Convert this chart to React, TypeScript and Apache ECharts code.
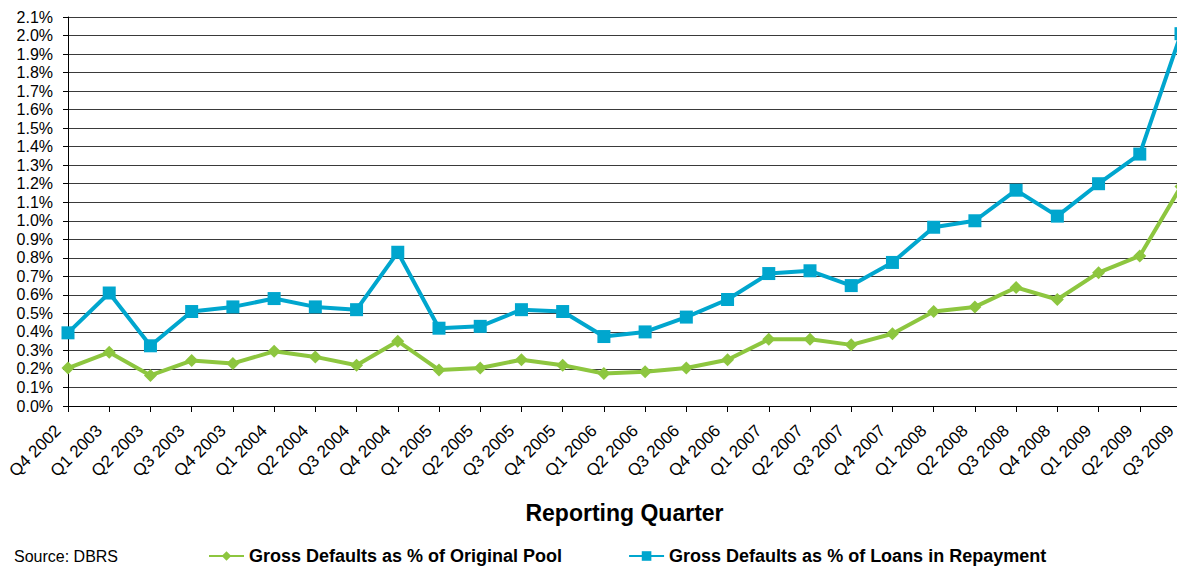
import React, { useEffect, useRef } from "react";
import * as echarts from "echarts";

const quarters = [
  "Q4 2002", "Q1 2003", "Q2 2003", "Q3 2003", "Q4 2003", "Q1 2004", "Q2 2004",
  "Q3 2004", "Q4 2004", "Q1 2005", "Q2 2005", "Q3 2005", "Q4 2005", "Q1 2006",
  "Q2 2006", "Q3 2006", "Q4 2006", "Q1 2007", "Q2 2007", "Q3 2007", "Q4 2007",
  "Q1 2008", "Q2 2008", "Q3 2008", "Q4 2008", "Q1 2009", "Q2 2009", "Q3 2009",
];

const originalPool = [
  0.205, 0.29, 0.165, 0.245, 0.23, 0.295, 0.265, 0.22, 0.35, 0.195, 0.205,
  0.25, 0.22, 0.175, 0.185, 0.205, 0.25, 0.36, 0.36, 0.33, 0.39, 0.51, 0.535,
  0.64, 0.575, 0.72, 0.81, 1.185,
];

const loansInRepayment = [
  0.395, 0.61, 0.325, 0.51, 0.535, 0.58, 0.535, 0.52, 0.83, 0.42, 0.43, 0.52,
  0.51, 0.375, 0.4, 0.48, 0.575, 0.715, 0.73, 0.65, 0.775, 0.965, 1.0, 1.165,
  1.025, 1.2, 1.36, 2.01,
];

const seriesNames = [
  "Gross Defaults as % of Original Pool",
  "Gross Defaults as % of Loans in Repayment",
];

export default function App() {
  const ref = useRef<HTMLDivElement>(null);
  useEffect(() => {
    if (!ref.current) return;
    const chart = echarts.init(ref.current, undefined, { renderer: "svg" });
    const font = "Liberation Sans, Arial, sans-serif";
    chart.setOption({
      animation: false,
      backgroundColor: "#ffffff",
      textStyle: { fontFamily: font },
      grid: {
        left: 68,
        right: -4,
        top: 17,
        bottom: 164,
        containLabel: false,
        outerBoundsMode: "none",
      },
      legend: {
        left: 203,
        top: 542,
        itemWidth: 35,
        itemHeight: 12,
        itemGap: 66,
        textStyle: { fontFamily: font, fontSize: 18, fontWeight: "bold", color: "#000" },
        data: seriesNames,
      },
      xAxis: {
        type: "category",
        data: quarters,
        boundaryGap: false,
        axisLine: { lineStyle: { color: "#000", width: 1 } },
        axisTick: { show: true, length: 6, lineStyle: { color: "#000" } },
        axisLabel: {
          rotate: 45,
          interval: 0,
          fontSize: 17,
          color: "#000",
          fontFamily: font,
          margin: 12,
          padding: [0, 14, 0, 0],
        },
        name: "Reporting Quarter",
        nameLocation: "middle",
        nameGap: 95,
        nameTextStyle: { fontSize: 23, fontWeight: "bold", color: "#000", fontFamily: font },
      },
      yAxis: {
        type: "value",
        min: 0,
        max: 2.1,
        interval: 0.1,
        axisLine: { show: true, lineStyle: { color: "#000", width: 1 } },
        axisTick: { show: true, length: 5, lineStyle: { color: "#000" } },
        axisLabel: {
          fontSize: 16,
          color: "#000",
          fontFamily: font,
          margin: 15,
          formatter: (v: number) => v.toFixed(1) + "%",
        },
        splitLine: { show: true, lineStyle: { color: "#3a3a3a", width: 1 } },
      },
      series: [
        {
          name: seriesNames[0],
          type: "line",
          data: originalPool,
          symbol: "diamond",
          symbolSize: 13,
          lineStyle: { color: "#8DC63F", width: 4 },
          itemStyle: { color: "#8DC63F" },
          z: 3,
        },
        {
          name: seriesNames[1],
          type: "line",
          data: loansInRepayment,
          symbol: "rect",
          symbolSize: 13,
          lineStyle: { color: "#00A6CE", width: 4 },
          itemStyle: { color: "#00A6CE" },
          z: 4,
        },
      ],
      graphic: [
        {
          type: "text",
          left: 14,
          top: 548,
          style: { text: "Source: DBRS", fontSize: 16, fill: "#000", fontFamily: font },
        },
      ],
    });
    return () => chart.dispose();
  }, []);
  return (
    <div
      ref={ref}
      style={{ position: "fixed", left: 0, top: 0, width: 1177, height: 570 }}
    />
  );
}
